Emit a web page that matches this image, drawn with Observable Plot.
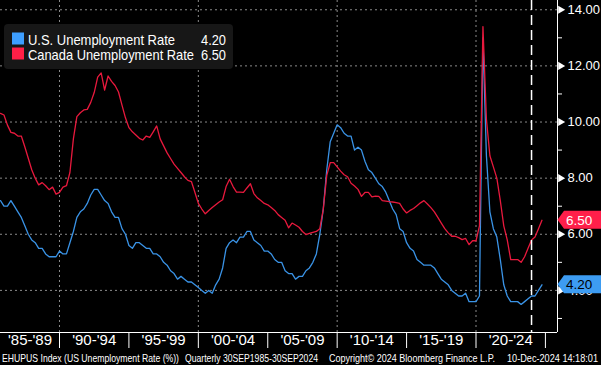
<!DOCTYPE html>
<html>
<head>
<meta charset="utf-8">
<script src="https://cdn.jsdelivr.net/npm/d3@7"></script>
<script src="https://cdn.jsdelivr.net/npm/@observablehq/plot@0.6"></script>
<style>
  html, body { margin: 0; padding: 0; background: #000; }
  svg { display: block; }
</style>
</head>
<body>
<script>
// ---- Data (quarterly, 30 Sep 1985 .. 30 Sep 2024) ----
const firstQuarter = 1985.75;
const usRate = [
  7.2, 7.0,
  7.0, 7.2, 7.0, 6.8,
  6.6, 6.3, 6.0, 5.8,
  5.7, 5.5, 5.5, 5.3,
  5.2, 5.2, 5.2, 5.4,
  5.3, 5.3, 5.7, 6.1,
  6.6, 6.8, 6.9, 7.1,
  7.4, 7.6, 7.6, 7.4,
  7.2, 7.1, 6.8, 6.6,
  6.6, 6.2, 6.0, 5.6,
  5.5, 5.7, 5.7, 5.6,
  5.5, 5.5, 5.3, 5.3,
  5.2, 5.0, 4.9, 4.7,
  4.6, 4.4, 4.5, 4.4,
  4.3, 4.3, 4.2, 4.1,
  4.0, 3.9, 4.0, 3.9,
  4.2, 4.4, 4.8, 5.5,
  5.7, 5.8, 5.7, 5.9,
  5.9, 6.1, 6.1, 5.8,
  5.7, 5.6, 5.4, 5.4,
  5.3, 5.1, 5.0, 5.0,
  4.7, 4.6, 4.6, 4.4,
  4.5, 4.5, 4.7, 4.8,
  5.0, 5.3, 6.0, 6.9,
  8.3, 9.3, 9.6, 9.9,
  9.8, 9.6, 9.5, 9.5,
  9.0, 9.1, 9.0, 8.6,
  8.3, 8.2, 8.0, 7.8,
  7.7, 7.5, 7.2, 6.9,
  6.7, 6.2, 6.1, 5.7,
  5.5, 5.4, 5.1, 5.0,
  4.9, 4.9, 4.9, 4.8,
  4.6, 4.4, 4.3, 4.2,
  4.0, 3.9, 3.8, 3.8,
  3.9, 3.6, 3.6, 3.6,
  3.8, 13.0, 8.8, 6.8,
  6.2, 5.9, 5.1, 4.2,
  3.8, 3.6, 3.6, 3.6,
  3.5, 3.6, 3.7, 3.8,
  3.8, 4.0, 4.2
];
const caRate = [
  10.31, 10.25, 9.89, 9.63, 9.6, 9.5, 9.5, 9.12, 8.71, 8.3,
  8.0, 7.76, 7.84, 7.73, 7.59, 7.68, 7.43, 7.49, 7.68, 7.73,
  8.2, 9.4, 10.19, 10.33, 10.43, 10.45, 10.7, 11.05, 11.6, 11.75,
  11.14, 11.64, 11.45, 11.3, 11.07, 10.6, 10.15, 9.8, 9.65, 9.54,
  9.42, 9.36, 9.5, 9.45, 9.65, 9.86, 9.4, 9.15, 8.9, 8.7,
  8.5, 8.35, 8.2, 8.05, 7.92, 7.88, 7.5, 7.1, 6.9, 6.73,
  6.85, 6.95, 7.05, 7.15, 7.23, 7.7, 7.96, 7.7, 7.5, 7.5,
  7.49, 7.65, 7.8, 7.45, 7.3, 7.2, 7.1, 7.05, 6.95, 6.85,
  6.7, 6.6, 6.5, 6.23, 6.4, 6.33, 6.25, 6.1, 5.99, 6.03,
  6.07, 6.1, 6.2, 6.9, 8.1, 8.55, 8.55, 8.4, 8.25, 8.12,
  8.05, 7.82, 7.72, 7.6, 7.35, 7.49, 7.49, 7.33, 7.36, 7.35,
  7.2, 7.18, 7.16, 7.15, 7.13, 7.1, 6.9, 6.76, 6.85, 6.92,
  7.02, 7.12, 7.2, 7.08, 6.95, 6.8, 6.6, 6.4, 6.2, 6.05,
  5.93, 5.93, 5.88, 5.81, 5.85, 5.63, 5.77, 5.77, 6.3, 13.4,
  10.1, 8.8, 8.4, 8.0, 7.2, 6.3, 5.8, 5.1, 5.1, 5.1,
  5.0, 5.2, 5.5, 5.8, 5.9, 6.2, 6.5
];
const seriesNames = ["U.S. Unemployment Rate", "Canada Unemployment Rate"];
const lastValues = ["4.20", "6.50"];
const periodStarts = [1985, 1990, 1995, 2000, 2005, 2010, 2015, 2020];
const periodLabels = ["'85-'89", "'90-'94", "'95-'99", "'00-'04", "'05-'09", "'10-'14", "'15-'19", "'20-'24"];
const gridYears = [1990, 2000, 2010, 2020];
const majorTicks = [4, 6, 8, 10, 12, 14];
const minorTicks = [3, 5, 7, 9, 11, 13];
const markerYear = 2024;
const footerParts = [
  "EHUPUS Index (US Unemployment Rate (%))",
  "Quarterly 30SEP1985-30SEP2024",
  "Copyright\u00A9 2024 Bloomberg Finance L.P.",
  "10-Dec-2024 14:18:01"
];

// ---- Build ----
const blue = "#3a93e6", red = "#e8193d";
const usRows = usRate.map((v, i) => ({t: firstQuarter + i / 4, v}));
const caRows = caRate.map((v, i) => ({t: firstQuarter + i / 4, v}));
const xEnd = 2025.87;
const sepYears = periodStarts.slice(1).concat([periodStarts[periodStarts.length - 1] + 5]);
const labelPos = periodStarts.map(s => (Math.max(s, firstQuarter) + s + 5) / 2);
const labelMap = new Map(labelPos.map((p, i) => [p, periodLabels[i]]));
const grid = {stroke: "#8a8a8a", strokeDasharray: "2,3", strokeWidth: 1};

const chart = Plot.plot({
  width: 601, height: 365,
  marginLeft: 0, marginRight: 44, marginTop: 0, marginBottom: 33,
  style: {background: "#000", color: "#fff", fontFamily: "'Liberation Sans', Arial, sans-serif"},
  x: {type: "linear", domain: [firstQuarter, xEnd], label: null},
  y: {domain: [2.5, 14.33], label: null},
  marks: [
    Plot.ruleY(majorTicks, grid),
    Plot.ruleX(gridYears, grid),
    Plot.line(usRows, {x: "t", y: "v", stroke: blue, strokeWidth: 1.3}),
    Plot.line(caRows, {x: "t", y: "v", stroke: red, strokeWidth: 1.3}),
    Plot.ruleX([markerYear], {stroke: "#fff", strokeWidth: 1.5, strokeDasharray: "10,5"}),
    Plot.ruleY([2.5], {stroke: "#fff"}),
    Plot.ruleX([xEnd], {stroke: "#fff"}),
    Plot.axisX(sepYears, {anchor: "bottom", tickSize: 16, tickFormat: () => "", stroke: "#fff", label: null}),
    Plot.axisX(labelPos, {anchor: "bottom", tickSize: 0, tickPadding: 2, tickFormat: d => labelMap.get(d), fontSize: 15, fill: "#fff", label: null}),
    Plot.axisY(majorTicks, {anchor: "right", tickSize: 0, tickPadding: 10, tickFormat: d => d.toFixed(2), fontSize: 13, fill: "#fff", label: null}),
    Plot.axisY(minorTicks, {anchor: "right", tickSize: 4, tickFormat: () => "", stroke: "#fff", label: null}),
    Plot.dot(majorTicks, {y: d => d, frameAnchor: "right", symbol: "triangle", rotate: 90, r: 3, fill: "#fff", dx: 3})
  ]
});

const svg = d3.select(chart);
const ys = chart.scale("y");
const font = "'Liberation Sans', Arial, sans-serif";
const narrow = "'Liberation Sans Narrow', 'Arial Narrow', 'Liberation Sans', Arial, sans-serif";

// Legend
const lg = svg.append("g").attr("font-family", narrow).attr("fill", "#fff").attr("text-anchor", "start");
lg.append("rect").attr("x", 4).attr("y", 24).attr("width", 229).attr("height", 45).attr("rx", 4).attr("fill", "#171717");
const swatch = ["#3d9eff", "#ff1f47"];
const lens = [147, 166];
seriesNames.forEach((name, i) => {
  const base = 45 + i * 15;
  lg.append("rect").attr("x", 12).attr("y", base - 12.5).attr("width", 12).attr("height", 12).attr("fill", swatch[i]);
  lg.append("text").attr("x", 28).attr("y", base).attr("font-size", 14.5).attr("text-anchor", "start")
    .attr("textLength", lens[i]).attr("lengthAdjust", "spacingAndGlyphs").text(name);
  lg.append("text").attr("x", 201).attr("y", base).attr("font-size", 14.5).attr("text-anchor", "start")
    .attr("textLength", 25).attr("lengthAdjust", "spacingAndGlyphs").text(lastValues[i]);
});

// Value tags
function tag(v, label, fill, textFill) {
  const y = ys.apply(v);
  const g = svg.append("g");
  g.append("path").attr("d", `M557.5,${y} L564,${y - 9} H601 V${y + 9} H564 Z`).attr("fill", fill);
  g.append("text").attr("x", 566).attr("y", y).attr("dy", "0.36em").attr("font-size", 13.5)
    .attr("text-anchor", "start").attr("font-family", font).attr("fill", textFill).text(label);
}
tag(+lastValues[0], lastValues[0], "#3d9cf2", "#000");
tag(+lastValues[1], lastValues[1], "#ff1f4a", "#fff");

// Footer
const fx = [2, 185, 329, 507], fl = [177, 133, 166, 91];
const ft = svg.append("g").attr("font-family", narrow).attr("font-size", 10.5).attr("fill", "#fff").attr("text-anchor", "start");
footerParts.forEach((s, i) => {
  ft.append("text").attr("x", fx[i]).attr("y", 362).attr("text-anchor", "start")
    .attr("textLength", fl[i]).attr("lengthAdjust", "spacingAndGlyphs").text(s);
});

document.body.appendChild(chart);
</script>
</body>
</html>
